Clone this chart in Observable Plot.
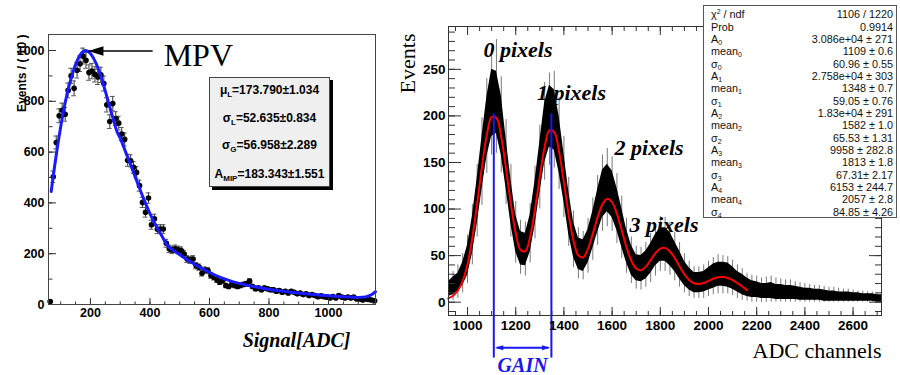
<!DOCTYPE html>
<html>
<head>
<meta charset="utf-8">
<script src="https://cdn.jsdelivr.net/npm/d3@7"></script>
<script src="https://cdn.jsdelivr.net/npm/@observablehq/plot@0.6"></script>
<style>
html,body{margin:0;padding:0;background:#fff;}
#wrap{position:relative;width:900px;height:375px;overflow:hidden;font-family:"Liberation Sans",Arial,Helvetica,sans-serif;}
#left,#right{position:absolute;top:0;}
#left{left:0;}
#right{left:380px;}
#statL{position:absolute;left:209px;top:77px;width:119px;height:108px;background:#efefef;border:1px solid #444;box-shadow:3px 3px 0 #000;font-weight:bold;font-size:12px;color:#000;}
#statL div{position:absolute;left:0;right:0;text-align:center;height:14px;line-height:14px;white-space:nowrap;}
#statL sub{font-size:8px;vertical-align:-3px;line-height:0;}
#statR{position:absolute;left:703px;top:5px;width:192px;height:211px;background:#fff;border:1px solid #555;font-size:10.8px;color:#111;}
#statR .row{position:absolute;left:7px;right:3px;height:12px;line-height:12px;white-space:nowrap;}
#statR .n{position:absolute;left:0;}
#statR .v{position:absolute;right:0;}
#statR sub{font-size:7px;vertical-align:-2px;line-height:0;}
#statR sup{font-size:7px;vertical-align:4px;line-height:0;}
</style>
</head>
<body>
<div id="wrap">
  <div id="left"></div>
  <div id="right"></div>
  <div id="statL"></div>
  <div id="statR"></div>
</div>
<script>
// ---------------- LEFT PANEL DATA ----------------
// bin centres (10 ADC wide bins) and counts
const leftBins = d3.range(65, 1160, 10);
const leftCounts = [12, 503, 638, 743, 765, 749, 843, 900, 851, 922,
  948, 978, 961, 913, 919, 906, 896, 904, 870, 786,
  720, 791, 732, 714, 671, 650, 568, 566, 540, 520,
  468, 402, 363, 419, 314, 337, 296, 297, 297, 241,
  219, 215, 219, 215, 212, 199, 179, 175, 179, 153,
  147, 123, 136, 134, 114, 107, 97, 88, 94, 75,
  71, 79, 75, 71, 75, 79, 82, 92, 71, 62,
  65, 58, 65, 62, 58, 58, 52, 55, 48, 52,
  45, 52, 48, 42, 45, 39, 42, 35, 39, 35,
  31, 34, 31, 29, 26, 31, 26, 35, 29, 26,
  29, 26, 29, 22, 22, 18, 22, 20, 18, 15];
// Landau (x) Gauss fit curve
const leftFitX = [68, 80, 90, 100, 110, 120, 130, 140, 150, 160, 170, 180, 190, 200, 210, 220, 230, 240, 250, 260,
  270, 280, 290, 300, 320, 340, 360, 380, 400, 420, 440, 460, 480, 500, 540, 580, 620, 660, 700, 760,
  820, 880, 940, 1000, 1060, 1100, 1125, 1140, 1150, 1158];
const leftFitY = [445, 548, 628, 700, 765, 822, 870, 910, 945, 972, 990, 999, 998, 988, 970, 946, 915, 880, 840, 798,
  756, 716, 678, 655, 595, 535, 473, 413, 358, 310, 270, 230, 212, 196, 165, 138, 115, 97, 83, 68,
  56, 47, 40, 34, 30, 28, 30, 36, 43, 50];
const leftStatNames = ["μ<sub>L</sub>", "σ<sub>L</sub>", "σ<sub>G</sub>", "A<sub>MIP</sub>"];
const leftStatValues = ["173.790±1.034", "52.635±0.834", "56.958±2.289", "183.343±1.551"];
const leftTicksY = d3.range(0, 1001, 200);
const leftTicksX = d3.range(200, 1001, 200);
// MPV annotation (data units)
const mpvText = ["MPV"];
const mpvTip = [193, 998];
const mpvTailX = [409];
const mpvLabelXY = [446, 939];

// ---------------- RIGHT PANEL DATA ----------------
const rightChan = d3.range(920, 2721, 20);
const coreLo = [6, 8, 12, 18, 29, 52, 84, 121, 156, 178, 181, 158, 122, 84, 54, 40, 39, 54, 82, 117,
  150, 167, 163, 139, 108, 73, 48, 35, 33, 42, 58, 75, 91, 97, 91, 77, 59, 42, 29, 23,
  22, 25, 31, 39, 44, 44, 39, 33, 25, 18, 13, 10, 10, 11, 13, 15, 17, 17, 16, 14,
  11, 8, 6, 5, 5, 4, 4, 4, 3, 3, 3, 3, 3, 2, 2, 2, 2, 2, 1, 1,
  1, 1, 1, 1, 1, 1, 1, 1, 1, 0, 0];
const coreHi = [22, 27, 31, 43, 61, 92, 133, 178, 220, 250, 248, 222, 176, 132, 94, 76, 74, 94, 130, 172,
  214, 233, 228, 200, 160, 119, 86, 69, 67, 78, 98, 121, 142, 148, 141, 123, 101, 78, 61, 51,
  50, 55, 63, 73, 80, 80, 75, 65, 55, 44, 37, 32, 32, 33, 37, 41, 43, 43, 42, 38,
  33, 30, 26, 23, 22, 20, 20, 21, 19, 19, 18, 18, 17, 16, 15, 15, 14, 14, 13, 12,
  12, 11, 11, 11, 10, 10, 9, 9, 9, 8, 8];
const spikeLo = [1, 2, 4, 10, 20, 40, 70, 104, 138, 158, 160, 139, 105, 70, 42, 30, 28, 42, 68, 100,
  131, 147, 144, 121, 91, 60, 37, 25, 24, 31, 45, 61, 76, 81, 76, 63, 47, 31, 20, 14,
  13, 16, 21, 28, 33, 33, 29, 23, 16, 10, 6, 4, 4, 4, 6, 8, 9, 9, 9, 7,
  4, 2, 1, 0, 0, 0, 0, 0, 0, 0, 0, 0, 0, 0, 0, 0, 0, 0, 0, 0,
  0, 0, 0, 0, 0, 0, 0, 0, 0, 0, 0];
const spikeHi = [28, 33, 40, 52, 72, 105, 148, 198, 240, 272, 282, 242, 196, 148, 108, 88, 86, 106, 146, 190,
  236, 246, 248, 220, 178, 134, 98, 80, 76, 90, 112, 136, 158, 165, 156, 138, 114, 90, 70, 60,
  59, 64, 74, 84, 92, 91, 86, 75, 64, 52, 44, 38, 38, 40, 44, 48, 51, 50, 49, 45,
  40, 36, 31, 29, 28, 26, 27, 28, 26, 25, 24, 24, 22, 21, 20, 19, 18, 18, 17, 16,
  16, 15, 14, 14, 13, 12, 12, 11, 11, 10, 10];
// sum-of-Gaussians fit
const fitX = d3.range(920, 2161, 20);
const fitY = [4, 7, 12.5, 23, 40.7, 69.4, 106, 145.6, 179.5, 198.8, 197.8, 177.1, 142.9, 105.3, 74.0, 56.1, 54.8, 70.6, 99.8, 135.1,
  166.7, 184.4, 182.5, 161.5, 128.4, 93.5, 65.8, 50.3, 48.2, 57.4, 73.6, 91.3, 105.2, 111.1, 107.3, 94.7, 77.1, 59.0, 44.4, 36.1,
  34.4, 38.2, 45.4, 52.7, 57.6, 58.3, 54.5, 47.3, 38.4, 30.0, 23.8, 20.3, 19.4, 20.6, 22.8, 25.1, 26.7, 27.0, 26.0, 23.8,
  20.5, 16.8, 13.0];
const peakMeans = [1109, 1348];
const peakLabels = ["0 pixels", "1 pixels", "2 pixels", "3 pixels"];
const peakLabelX = [1066, 1288, 1610, 1672];
const peakLabelY = [263, 217, 158, 75];
const gainText = ["GAIN"];
const statNames = ["χ<sup>2</sup> / ndf", "Prob", "A<sub>0</sub>", "mean<sub>0</sub>", "σ<sub>0</sub>",
  "A<sub>1</sub>", "mean<sub>1</sub>", "σ<sub>1</sub>", "A<sub>2</sub>", "mean<sub>2</sub>", "σ<sub>2</sub>",
  "A<sub>3</sub>", "mean<sub>3</sub>", "σ<sub>3</sub>", "A<sub>4</sub>", "mean<sub>4</sub>", "σ<sub>4</sub>"];
const statValues = ["1106 / 1220", "0.9914", "3.086e+04 ± 271", "1109 ± 0.6", "60.96 ± 0.55",
  "2.758e+04 ± 303", "1348 ± 0.7", "59.05 ± 0.76", "1.83e+04 ± 291", "1582 ± 1.0", "65.53 ± 1.31",
  "9958 ± 282.8", "1813 ± 1.8", "67.31± 2.17", "6153 ± 244.7", "2057 ± 2.8", "84.85 ± 4.26"];

// ---------------- DRAWING ----------------
const sans = "'Liberation Sans', Arial, Helvetica, sans-serif";
const serif = "'Liberation Serif', 'Times New Roman', Times, serif";
const plain = d => String(d);
const headLeft = {draw(ctx, size) { const s = Math.sqrt(size / Math.PI); ctx.moveTo(0, 0); ctx.lineTo(1.6 * s, -0.5 * s); ctx.lineTo(1.6 * s, 0.5 * s); ctx.closePath(); }};
const headRight = {draw(ctx, size) { const s = Math.sqrt(size / Math.PI); ctx.moveTo(0, 0); ctx.lineTo(-1.6 * s, -0.5 * s); ctx.lineTo(-1.6 * s, 0.5 * s); ctx.closePath(); }};

const leftData = leftBins.map((x, i) => ({x, y: leftCounts[i], e: Math.sqrt(leftCounts[i])}));
const leftFit = leftFitX.map((x, i) => ({x, y: leftFitY[i]}));
const mpv = [{x1: mpvTailX[0], x2: mpvTip[0], y: mpvTip[1]}];

const leftPlot = Plot.plot({
  width: 380, height: 375,
  marginLeft: 48, marginRight: 5, marginTop: 34, marginBottom: 71,
  x: {domain: [59, 1158]},
  y: {domain: [0, 1063]},
  style: {fontFamily: sans, background: "transparent", overflow: "visible", color: "#000"},
  marks: [
    Plot.ruleX(leftData, {x: "x", y1: d => d.y - d.e, y2: d => d.y + d.e, stroke: "#333", strokeWidth: 1}),
    Plot.ruleY(leftData, {y: d => d.y + d.e, x1: d => d.x - 8, x2: d => d.x + 8, stroke: "#555"}),
    Plot.ruleY(leftData, {y: d => d.y - d.e, x1: d => d.x - 8, x2: d => d.x + 8, stroke: "#555"}),
    Plot.dot(leftData, {x: "x", y: "y", r: 2.8, fill: "#000"}),
    Plot.line(leftFit, {x: "x", y: "y", curve: "catmull-rom", stroke: "#1a1aff", strokeWidth: 3}),
    Plot.link(mpv, {x1: "x1", x2: "x2", y1: "y", y2: "y", stroke: "#000", strokeWidth: 1.6}),
    Plot.dot(mpv, {x: "x2", y: "y", symbol: headLeft, r: 9.4, fill: "#000", stroke: "none"}),
    Plot.text(mpvText, {x: mpvLabelXY[0], y: mpvLabelXY[1], text: d => d, textAnchor: "start", lineAnchor: "bottom", fontFamily: serif, fontSize: 32, fill: "#000"}),
    // axes (ROOT style, ticks inside)
    Plot.axisY(d3.range(0, 1001, 100), {anchor: "right", frameAnchor: "left", tickSize: 3.5, fill: "none", stroke: "#333", label: null}),
    Plot.axisY(leftTicksY, {anchor: "right", frameAnchor: "left", tickSize: 7, fill: "none", stroke: "#333", label: null}),
    Plot.axisY(leftTicksY, {anchor: "left", tickSize: 0, tickPadding: 4, tickFormat: plain, label: null, fontSize: 12.5, fontWeight: "bold", fill: "#000"}),
    Plot.axisX(d3.range(100, 1151, 50), {anchor: "top", frameAnchor: "bottom", tickSize: 3.5, fill: "none", stroke: "#333", label: null}),
    Plot.axisX(leftTicksX, {anchor: "top", frameAnchor: "bottom", tickSize: 7, fill: "none", stroke: "#333", label: null}),
    Plot.axisX(leftTicksX, {anchor: "bottom", tickSize: 0, tickPadding: 3.5, tickFormat: plain, label: null, fontSize: 12.5, fontWeight: "bold", fill: "#000"}),
    Plot.frame({stroke: "#444"}),
    Plot.text(["Events / ( 10 )"], {frameAnchor: "top-left", text: d => d, rotate: -90, textAnchor: "end", lineAnchor: "middle", dx: -26, fontWeight: "bold", fontSize: 12, fill: "#000"}),
    Plot.text(["Signal[ADC]"], {frameAnchor: "bottom-right", text: d => d, textAnchor: "end", lineAnchor: "bottom", dx: -25, dy: 42, fontFamily: serif, fontStyle: "italic", fontWeight: "bold", fontSize: 20, fill: "#000"})
  ]
});
document.getElementById("left").appendChild(leftPlot);

const rightData = rightChan.map((x, i) => ({x, lo: coreLo[i], hi: coreHi[i], slo: spikeLo[i], shi: spikeHi[i]}));
const fitData = fitX.map((x, i) => ({x, y: fitY[i]}));
const labelData = peakLabels.map((t, i) => ({t, x: peakLabelX[i], y: peakLabelY[i]}));
const gain = [{x1: peakMeans[0], x2: peakMeans[1], y: -49}];
const blue = "#1818f0";

const rightPlot = Plot.plot({
  width: 520, height: 375,
  marginLeft: 68, marginRight: 19, marginTop: 26, marginBottom: 60,
  x: {domain: [921, 2718]},
  y: {domain: [-14.3, 296]},
  style: {fontFamily: sans, background: "transparent", overflow: "visible", color: "#000"},
  marks: [
    Plot.ruleX(rightData, {x: "x", y1: "slo", y2: "shi", stroke: "#7a7a7a", strokeWidth: 1, clip: true}),
    Plot.areaY(rightData, {x: "x", y1: "lo", y2: "hi", fill: "#000", clip: true}),
    Plot.line(fitData, {x: "x", y: "y", curve: "catmull-rom", stroke: "#ff0000", strokeWidth: 2}),
    Plot.ruleX(peakMeans, {x: d => d, y1: 202, y2: -60, stroke: blue, strokeWidth: 2}),
    Plot.link(gain, {x1: d => d.x1 + 12, x2: d => d.x2 - 12, y1: "y", y2: "y", stroke: blue, strokeWidth: 2}),
    Plot.dot(gain, {x: d => d.x1 + 6, y: "y", symbol: headLeft, r: 5, fill: blue, stroke: "none"}),
    Plot.dot(gain, {x: d => d.x2 - 6, y: "y", symbol: headRight, r: 5, fill: blue, stroke: "none"}),
    Plot.text(gainText, {x: (peakMeans[0] + peakMeans[1]) / 2, y: -75.5, text: d => d, textAnchor: "middle", lineAnchor: "bottom", fontFamily: serif, fontStyle: "italic", fontWeight: "bold", fontSize: 20, fill: blue}),
    Plot.text(labelData, {x: "x", y: "y", text: "t", textAnchor: "start", lineAnchor: "bottom", fontFamily: serif, fontStyle: "italic", fontWeight: "bold", fontSize: 22, fill: "#000"}),
    // axes, ticks on all four sides, inside the frame
    Plot.axisY(d3.range(-10, 291, 10), {anchor: "right", frameAnchor: "left", tickSize: 6, fill: "none", stroke: "#333", label: null}),
    Plot.axisY(d3.range(0, 251, 50), {anchor: "right", frameAnchor: "left", tickSize: 12, fill: "none", stroke: "#333", label: null}),
    Plot.axisY(d3.range(-10, 291, 10), {anchor: "left", frameAnchor: "right", tickSize: 6, fill: "none", stroke: "#333", label: null}),
    Plot.axisY(d3.range(0, 251, 50), {anchor: "left", frameAnchor: "right", tickSize: 12, fill: "none", stroke: "#333", label: null}),
    Plot.axisY(d3.range(0, 251, 50), {anchor: "left", tickSize: 0, tickPadding: 3, tickFormat: plain, label: null, fontSize: 13.5, fontWeight: "bold", fill: "#000"}),
    Plot.axisX(d3.range(950, 2701, 50), {anchor: "top", frameAnchor: "bottom", tickSize: 5, fill: "none", stroke: "#333", label: null}),
    Plot.axisX(d3.range(1000, 2601, 200), {anchor: "top", frameAnchor: "bottom", tickSize: 9, fill: "none", stroke: "#333", label: null}),
    Plot.axisX(d3.range(950, 2701, 50), {anchor: "bottom", frameAnchor: "top", tickSize: 5, fill: "none", stroke: "#333", label: null}),
    Plot.axisX(d3.range(1000, 2601, 200), {anchor: "bottom", frameAnchor: "top", tickSize: 9, fill: "none", stroke: "#333", label: null}),
    Plot.axisX(d3.range(1000, 2601, 200), {anchor: "bottom", tickSize: 0, tickPadding: 5, tickFormat: plain, label: null, fontSize: 13.5, fontWeight: "bold", fill: "#000"}),
    Plot.frame({stroke: "#333"}),
    Plot.text(["Events"], {frameAnchor: "top-left", text: d => d, rotate: -90, textAnchor: "end", lineAnchor: "middle", dx: -41, dy: 7, fontFamily: serif, fontSize: 22, fill: "#000"}),
    Plot.text(["ADC channels"], {frameAnchor: "bottom-right", text: d => d, textAnchor: "end", lineAnchor: "bottom", dy: 42, fontFamily: serif, fontSize: 22, fill: "#000"})
  ]
});
document.getElementById("right").appendChild(rightPlot);

// stats boxes
const statL = document.getElementById("statL");
const lTops = [4.6, 33, 60.3, 88.6];
leftStatNames.forEach((n, i) => {
  const div = document.createElement("div");
  div.style.top = lTops[i] + "px";
  div.innerHTML = n + "=" + leftStatValues[i];
  statL.appendChild(div);
});
const statR = document.getElementById("statR");
statNames.forEach((n, i) => {
  const row = document.createElement("div");
  row.className = "row";
  row.style.top = (2.3 + 12.34 * i) + "px";
  row.innerHTML = `<span class="n">${n}</span><span class="v">${statValues[i]}</span>`;
  statR.appendChild(row);
});
</script>
</body>
</html>
